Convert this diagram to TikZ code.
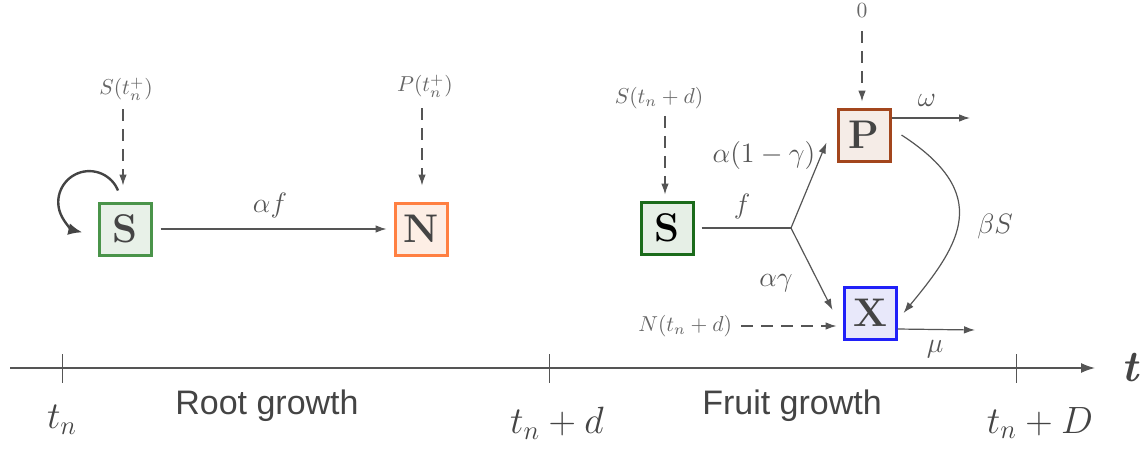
\RequirePackage{fix-cm}
\documentclass[tikz,border=0pt]{standalone}
\usepackage{fontspec}
\newfontfamily\labelsans{Liberation Sans}
\usetikzlibrary{arrows.meta,calc}
\definecolor{txtdark}{HTML}{444444}
\definecolor{txtgray}{HTML}{555555}
\definecolor{txtlight}{HTML}{666666}
\definecolor{linegray}{HTML}{555555}
\definecolor{sgreenL}{HTML}{4A944A}
\definecolor{sfillL}{HTML}{E8F1E8}
\definecolor{norange}{HTML}{FF8042}
\definecolor{nfill}{HTML}{FDEEE5}
\definecolor{sgreen}{HTML}{1B6B1B}
\definecolor{sfill}{HTML}{E6EFE6}
\definecolor{pbrown}{HTML}{A3461D}
\definecolor{pfill}{HTML}{F5ECE7}
\definecolor{xblue}{HTML}{2020F8}
\definecolor{xfill}{HTML}{E8E8FA}
\begin{document}
\begin{tikzpicture}[x=0.5pt,y=0.5pt,
  box/.style={draw, line width=1.5pt, minimum size=26pt, inner sep=0pt,
    font=\fontsize{20}{22}\selectfont\bfseries, text=txtdark},
  conn/.style={draw=linegray, line width=0.6pt},
  flow/.style={conn, -{Latex[length=5.5pt,width=3.8pt]}},
  feed/.style={flow, dash pattern=on 6pt off 4pt},
  lab/.style={font=\fontsize{14}{16}\selectfont, text=txtgray},
  small/.style={font=\fontsize{10.8}{12}\selectfont, text=txtlight},
  axlab/.style={font=\fontsize{19}{22}\selectfont, text=txtdark},
  phase/.style={font=\labelsans\fontsize{17}{20}\selectfont, text=txtdark},
  selfloop/.style={draw=txtdark, line width=1.2pt, -{Latex[length=7pt,width=6pt]}},
  axisline/.style={draw=linegray, line width=0.7pt, -{Latex[length=7pt,width=5pt]}},
  tickline/.style={draw=linegray, line width=0.5pt}
]
\useasboundingbox (0,0) rectangle (1145,-450);

% boxes
\node[box, draw=sgreenL, fill=sfillL] (S1) at (125,-229) {S};
\node[box, draw=norange, fill=nfill] (N) at (421,-229) {N};
\node[box, draw=sgreen, fill=sfill, text=black] (S2) at (667,-228) {S};
\node[box, draw=pbrown, fill=pfill] (P) at (864,-135) {P};
\node[box, draw=xblue, fill=xfill] (X) at (870,-313) {X};

% input labels
\node[small] (sin) at (126,-89) {$S(t_n^+)$};
\node[small] (pin) at (425,-86) {$P(t_n^+)$};
\node[small] (s2in) at (659,-98) {$S(t_n+d)$};
\node[small] (zero) at (862,-11) {$0$};
\node[small, anchor=east] (nin) at (739,-326) {$N(t_n+d)$};

% dashed inputs
\draw[feed, shorten <=1pt, shorten >=8pt] (sin.south) ++(-3,0) coordinate (sa) -- (sa |- S1.north);
\draw[feed, shorten <=2pt, shorten >=8pt] (pin.south) ++(-3,0) coordinate (pa) -- (pa |- N.north);
\draw[feed, shorten >=3pt] (s2in.south -| S2.north) ++(-2,0) coordinate (s2a) -- (s2a |- S2.north);
\draw[feed, shorten <=3pt, shorten >=3pt] (zero.south) -- (zero.south |- P.north);
\draw[feed, shorten <=1pt, shorten >=3pt] (nin.east) -- (nin.east -| X.west);

% self loop
\draw[selfloop] ($(S1.north)+(-7,11)$) arc[start angle=22, end angle=257, radius=31];

% root growth flow
\draw[flow, shorten <=4pt, shorten >=3.5pt] (S1) -- (N);
\node[lab] (laf) at (270,-205) {$\alpha f$};

% fruit growth flows
\coordinate (j) at (791,-228);
\draw[conn, shorten <=3.5pt] (S2) -- (j);
\node[lab] (lf) at (742,-206) {$f$};
\draw[flow] (j) -- ($(P.south west)+(-10,20)$);
\node[lab] (lag1) at (764,-155) {$\alpha(1-\gamma)$};
\draw[flow] (j) -- ($(X.west)+(-10,3)$);
\node[lab] (lag) at (776,-283) {$\alpha\gamma$};

\coordinate (omega) at (970,-118);
\draw[flow] ($(P.east)+(0,17)$) -- (omega);
\node[lab] (lom) at (927,-100) {$\omega$};

\coordinate (mu) at (975,-330);
\draw[flow] ($(X.east)+(0,-16)$) -- (mu);
\node[lab] (lmu) at (935,-349) {$\mu$};

\draw[flow] ($(P.east)+(10,0)$) .. controls +(91,-59) and +(58,70) .. ($(X.east)+(6,0)$);
\node[lab] (lbs) at (995,-226) {$\beta S$};

% time axis
\coordinate (a0) at (10,-368);
\coordinate (a1) at (1095,-368);
\draw[axisline] (a0) -- (a1);
\foreach \x/\n in {62/k0,549/k1,1016/k2}{
  \coordinate (\n t) at (\x,-354);
  \coordinate (\n b) at (\x,-383);
  \draw[tickline] (\n t) -- (\n b);
}
\node[font=\fontsize{22}{24}\selectfont\bfseries\itshape, text=txtdark] (tlab) at (1130,-368) {t};
\node[axlab] (t0) at (62,-420) {$t_n$};
\node[axlab] (t1) at (557,-423) {$t_n+d$};
\node[axlab] (t2) at (1040,-423) {$t_n+D$};
\node[phase] (root) at (267,-406) {Root growth};
\node[phase] (fruit) at (792,-406) {Fruit growth};
\end{tikzpicture}
\end{document}
